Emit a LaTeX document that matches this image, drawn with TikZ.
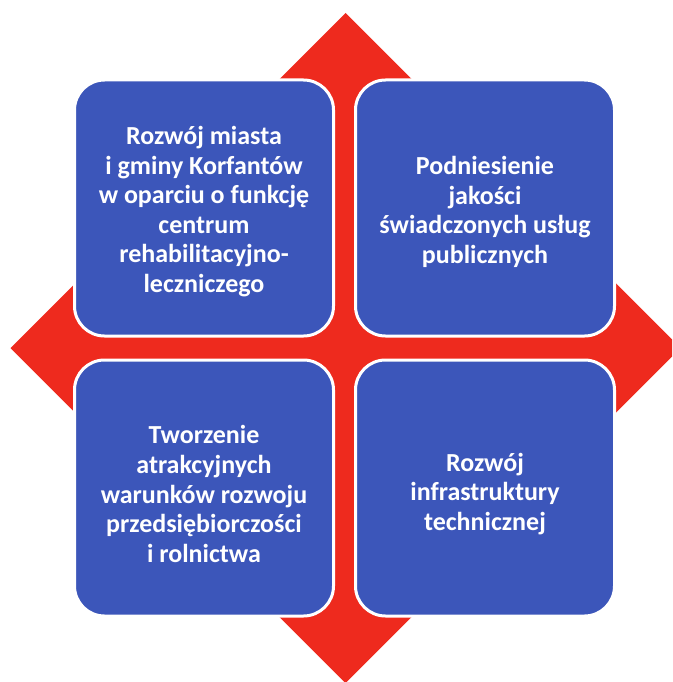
\documentclass[tikz,border=0pt]{standalone}
\usepackage{fontspec}
\setmainfont{Carlito}
\definecolor{arrowred}{RGB}{238,42,30}
\definecolor{boxblue}{RGB}{60,86,186}
\tikzset{
  goalbox/.style={draw=white, line width=3pt, fill=boxblue, rounded corners=30pt,
    minimum width=259pt, minimum height=256pt, inner sep=0pt, outer sep=0pt},
  goaltext/.style={text=white, align=center, inner sep=0pt,
    font=\bfseries\fontsize{26}{29.6}\selectfont}
}
\begin{document}
\begin{tikzpicture}[x=1pt,y=-1pt]
\useasboundingbox (0,0) rectangle (672,682);
\clip (0,0) rectangle (672,682);
\fill[arrowred] (345.5,13) -- (680.5,348) -- (345.5,683) -- (10.5,348) -- cycle;
\node[goalbox, label={[goaltext, yshift=-3.5pt]center:{Rozwój miasta\\i gminy Korfantów\\w oparciu o funkcję\\centrum\\rehabilitacyjno-\\leczniczego}}] (tl) at (204,208) {};
\node[goalbox, label={[goaltext, yshift=-4pt]center:{Podniesienie\\jakości\\świadczonych usług\\publicznych}}] (tr) at (485,208) {};
\node[goalbox, label={[goaltext, yshift=-6pt]center:{Tworzenie\\atrakcyjnych\\warunków rozwoju\\przedsiębiorczości\\i rolnictwa}}] (bl) at (204,488) {};
\node[goalbox, label={[goaltext, yshift=-6pt]center:{Rozwój\\infrastruktury\\technicznej}}] (br) at (485,488) {};
\end{tikzpicture}
\end{document}
